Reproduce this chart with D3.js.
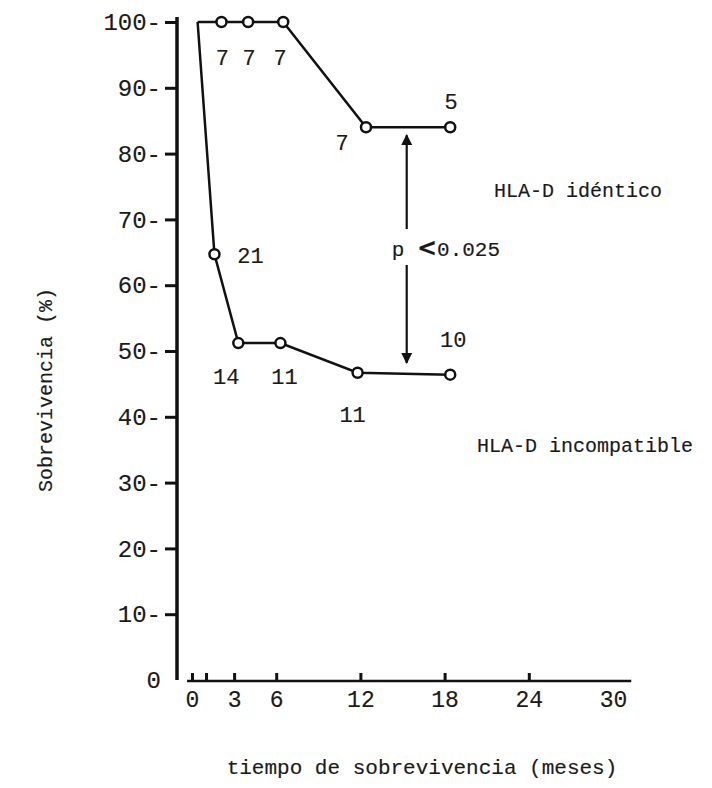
<!DOCTYPE html>
<html>
<head>
<meta charset="utf-8">
<script src="https://cdn.jsdelivr.net/npm/d3@7"></script>
<style>
  body { margin: 0; background: #fff; }
  svg text { font-family: "Liberation Mono", "DejaVu Sans Mono", monospace; fill: #1a1a1a; stroke: #1a1a1a; stroke-width: 0.15; }
</style>
</head>
<body>
<div id="chart"></div>
<script>
// survival curves (months, % surviving)
var idMonths = [0.4, 2.1, 4.0, 6.5, 12.4, 18.4];
var idSurv = [100, 100, 100, 100, 84, 84];
var idN = [null, '7', '7', '7', '7', '5'];

var incMonths = [0.4, 1.6, 3.3, 6.3, 11.8, 18.4];
var incSurv = [100, 64.7, 51.2, 51.2, 46.7, 46.4];
var incN = [null, '21', '14', '11', '11', '10'];

var xTicks = [0, 1, 3, 6, 12, 18, 24, 30];
var xLabels = [0, 3, 6, 12, 18, 24, 30];
var yTicks = [0, 10, 20, 30, 40, 50, 60, 70, 80, 90, 100];

var pMonth = 15.3;
var pFrom = 82.8, pTo = 48.2;
var pText = '0.025';

(function(){

  var width = 712, height = 788;

  var x = d3.scaleLinear().domain([0, 30]).range([192, 613]);
  var y = d3.scaleLinear().domain([0, 100]).range([680, 22]);

  var svg = d3.select('#chart')
    .append('svg')
    .attr('width', width)
    .attr('height', height);

  svg.append('rect').attr('width', width).attr('height', height).attr('fill', '#fff');

  // y axis
  var yAxis = d3.axisLeft(y)
    .tickValues(yTicks)
    .tickSize(12)
    .tickPadding(4)
    .tickFormat(function(d) { return d === 0 ? '0' : d + '-'; });

  var gy = svg.append('g')
    .attr('transform', 'translate(177,0)')
    .call(yAxis);
  gy.select('.domain').remove();
  gy.selectAll('.tick line')
    .attr('stroke', '#111')
    .attr('stroke-width', 3)
    .filter(function(d) { return d === 0; }).remove();
  gy.selectAll('.tick text')
    .attr('font-size', 24)
    .attr('font-family', '"Liberation Mono", monospace');
  gy.append('line')
    .attr('x1', 0).attr('x2', 0)
    .attr('y1', y(100) - 5).attr('y2', y(0))
    .attr('stroke', '#111').attr('stroke-width', 3.5);

  // x axis, ticks point up into the plot
  var xAxis = d3.axisBottom(x)
    .tickValues(xTicks)
    .tickSize(-8)
    .tickPadding(10)
    .tickFormat(function(d) { return xLabels.indexOf(d) >= 0 ? d : ''; });

  var gx = svg.append('g')
    .attr('transform', 'translate(0,681)')
    .call(xAxis);
  gx.select('.domain').remove();
  gx.selectAll('.tick line')
    .attr('stroke', '#111')
    .attr('stroke-width', 3)
    .filter(function(d) { return d === 30; }).remove();
  gx.selectAll('.tick text')
    .attr('font-size', 23)
    .attr('font-family', '"Liberation Mono", monospace');
  gx.append('line')
    .attr('x1', x(-0.35)).attr('x2', x(31.3))
    .attr('y1', 0).attr('y2', 0)
    .attr('stroke', '#111').attr('stroke-width', 2.5);

  // axis titles
  svg.append('text')
    .attr('transform', 'translate(52,390) rotate(-90)')
    .attr('text-anchor', 'middle')
    .attr('font-size', 20)
    .text('Sobrevivencia (%)');

  svg.append('text')
    .attr('x', 422).attr('y', 774)
    .attr('text-anchor', 'middle')
    .attr('font-size', 21)
    .text('tiempo de sobrevivencia (meses)');

  var line = d3.line()
    .x(function(d) { return x(d.m); })
    .y(function(d) { return y(d.v); });

  function series(months, surv, n, offsets) {
    var data = months.map(function(m, i) { return {m: m, v: surv[i], n: n[i], off: offsets[i]}; });
    var g = svg.append('g');
    g.append('path')
      .datum(data)
      .attr('d', line)
      .attr('fill', 'none')
      .attr('stroke', '#111')
      .attr('stroke-width', 2.5);
    var pts = data.filter(function(d) { return d.n; });
    g.selectAll('circle')
      .data(pts)
      .enter()
      .append('circle')
      .attr('cx', function(d) { return x(d.m); })
      .attr('cy', function(d) { return y(d.v); })
      .attr('r', 5)
      .attr('fill', '#fff')
      .attr('stroke', '#111')
      .attr('stroke-width', 2.5);
    g.selectAll('text.n')
      .data(pts)
      .enter()
      .append('text')
      .attr('class', 'n')
      .attr('x', function(d) { return x(d.m) + d.off[0]; })
      .attr('y', function(d) { return y(d.v) + d.off[1]; })
      .attr('text-anchor', 'middle')
      .attr('font-size', 22)
      .text(function(d) { return d.n; });
  }

  series(idMonths, idSurv, idN,
    [null, [1, 43], [1, 43], [-3, 43], [-24, 23], [1, -18]]);
  series(incMonths, incSurv, incN,
    [null, [36, 9], [-12, 41], [4, 41], [-5, 49], [3, -28]]);

  // p-value arrow between the two curves
  var ax = x(pMonth);
  svg.append('defs').append('marker')
    .attr('id', 'head')
    .attr('viewBox', '0 0 10 10')
    .attr('refX', 9).attr('refY', 5)
    .attr('markerWidth', 5).attr('markerHeight', 6)
    .attr('orient', 'auto')
    .append('path')
    .attr('d', 'M0,0 L10,5 L0,10 Z')
    .attr('fill', '#111');

  var mid = (pFrom + pTo) / 2;
  svg.append('line')
    .attr('x1', ax).attr('x2', ax)
    .attr('y1', y(mid) - 20).attr('y2', y(pFrom))
    .attr('stroke', '#111').attr('stroke-width', 2.2)
    .attr('marker-end', 'url(#head)');
  svg.append('line')
    .attr('x1', ax).attr('x2', ax)
    .attr('y1', y(mid) + 16).attr('y2', y(pTo))
    .attr('stroke', '#111').attr('stroke-width', 2.2)
    .attr('marker-end', 'url(#head)');

  var pt = svg.append('text')
    .attr('x', ax - 15).attr('y', y(mid) + 7)
    .attr('font-size', 21);
  pt.append('tspan').text('p ');
  pt.append('tspan').attr('font-weight', 'bold').attr('font-size', 24).attr('font-family', '"DejaVu Sans", sans-serif').text('<');
  pt.append('tspan').text(pText);

  // group labels
  svg.append('text')
    .attr('x', 494).attr('y', 197)
    .attr('font-size', 20)
    .text('HLA-D idéntico');
  svg.append('text')
    .attr('x', 477).attr('y', 452)
    .attr('font-size', 20)
    .text('HLA-D incompatible');

})();
</script>
</body>
</html>
